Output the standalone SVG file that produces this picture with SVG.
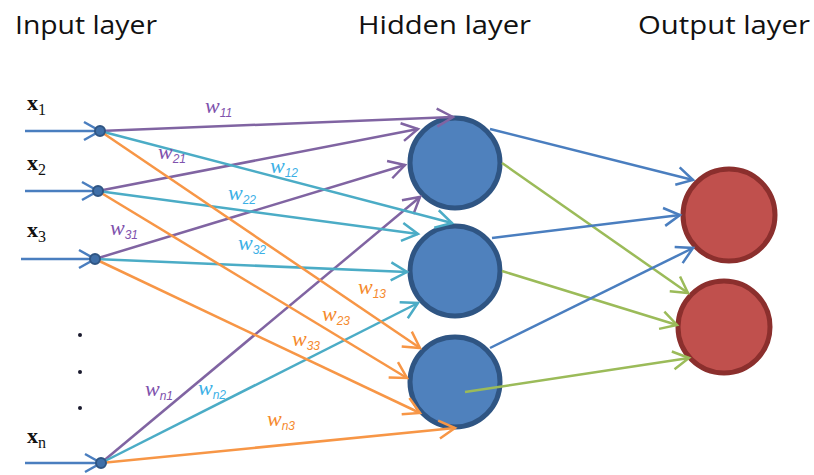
<svg xmlns="http://www.w3.org/2000/svg" width="814" height="475" viewBox="0 0 814 475">
<style>
.title{font-family:"Open Sans","Liberation Sans",sans-serif;font-size:26px;fill:#111}
.xl{font-family:"Liberation Serif",serif;font-size:22px;font-weight:bold;fill:#111}
.xs{font-size:16px;font-weight:normal}
.w{font-family:"Liberation Serif",serif;font-style:italic;font-size:22px}
.ws{font-family:"Liberation Sans",sans-serif;font-size:12px;font-style:italic}
.wp{fill:#8052ad}
.wc{fill:#3cb0e6}
.wo{fill:#f58a2e}
.hid{fill:#4f81bd;stroke:#2f5583;stroke-width:5}
.out{fill:#c0504d;stroke:#8b2f2d;stroke-width:5}
.inp{fill:#3f6fa8;stroke:#2f5583;stroke-width:2}
.e{fill:none;stroke-width:2.5}
.p{stroke:#8064a2}
.c{stroke:#4bacc6}
.o{stroke:#f79646}
.b{stroke:#4a7ebf}
.g{stroke:#9bbb59}
</style>
<defs>
<marker id="mp" markerUnits="userSpaceOnUse" markerWidth="40" markerHeight="40" viewBox="-20 -20 40 40" refX="0" refY="0" orient="auto"><path d="M-16,-9 L0,0 L-16,9" fill="none" stroke="#8064a2" stroke-width="2.5"/></marker>
<marker id="mc" markerUnits="userSpaceOnUse" markerWidth="40" markerHeight="40" viewBox="-20 -20 40 40" refX="0" refY="0" orient="auto"><path d="M-16,-9 L0,0 L-16,9" fill="none" stroke="#4bacc6" stroke-width="2.5"/></marker>
<marker id="mo" markerUnits="userSpaceOnUse" markerWidth="40" markerHeight="40" viewBox="-20 -20 40 40" refX="0" refY="0" orient="auto"><path d="M-16,-9 L0,0 L-16,9" fill="none" stroke="#f79646" stroke-width="2.5"/></marker>
<marker id="mb" markerUnits="userSpaceOnUse" markerWidth="40" markerHeight="40" viewBox="-20 -20 40 40" refX="0" refY="0" orient="auto"><path d="M-16,-9 L0,0 L-16,9" fill="none" stroke="#4a7ebf" stroke-width="2.5"/></marker>
<marker id="mg" markerUnits="userSpaceOnUse" markerWidth="40" markerHeight="40" viewBox="-20 -20 40 40" refX="0" refY="0" orient="auto"><path d="M-16,-9 L0,0 L-16,9" fill="none" stroke="#9bbb59" stroke-width="2.5"/></marker>
</defs>
<rect width="814" height="475" fill="#fff"/>
<g id="titles">
<text class="title" x="15" y="34" textLength="142" lengthAdjust="spacingAndGlyphs">Input layer</text>
<text class="title" x="358" y="34" textLength="173" lengthAdjust="spacingAndGlyphs">Hidden layer</text>
<text class="title" x="638" y="34" textLength="172" lengthAdjust="spacingAndGlyphs">Output layer</text>
</g>
<g id="h1"><circle class="hid" cx="455" cy="163" r="45"/></g>
<g id="h2"><circle class="hid" cx="455" cy="271" r="45"/></g>
<g id="h3"><circle class="hid" cx="455" cy="382" r="45"/></g>
<g id="o1"><circle class="out" cx="729" cy="215" r="46"/></g>
<g id="o2"><circle class="out" cx="724" cy="327" r="46"/></g>
<g id="connectors">
<line class="e b" x1="25" y1="131" x2="100" y2="131" marker-end="url(#mb)"/>
<line class="e b" x1="25" y1="191" x2="98" y2="191" marker-end="url(#mb)"/>
<line class="e b" x1="21" y1="259" x2="95" y2="259" marker-end="url(#mb)"/>
<line class="e b" x1="25" y1="463" x2="101" y2="463" marker-end="url(#mb)"/>
<line class="e p" x1="100" y1="131" x2="453" y2="117" marker-end="url(#mp)"/>
<line class="e p" x1="98" y1="191" x2="418" y2="129" marker-end="url(#mp)"/>
<line class="e p" x1="95" y1="259" x2="405" y2="165" marker-end="url(#mp)"/>
<line class="e p" x1="101" y1="463" x2="420" y2="197" marker-end="url(#mp)"/>
<line class="e c" x1="100" y1="131" x2="452" y2="223" marker-end="url(#mc)"/>
<line class="e c" x1="98" y1="191" x2="418" y2="234" marker-end="url(#mc)"/>
<line class="e c" x1="95" y1="259" x2="407" y2="272" marker-end="url(#mc)"/>
<line class="e c" x1="101" y1="463" x2="418" y2="303" marker-end="url(#mc)"/>
<line class="e o" x1="100" y1="131" x2="420" y2="348" marker-end="url(#mo)"/>
<line class="e o" x1="98" y1="191" x2="407" y2="378" marker-end="url(#mo)"/>
<line class="e o" x1="95" y1="259" x2="420" y2="413" marker-end="url(#mo)"/>
<line class="e o" x1="101" y1="463" x2="455" y2="428" marker-end="url(#mo)"/>
<line class="e b" x1="490" y1="129" x2="693" y2="180" marker-end="url(#mb)"/>
<line class="e g" x1="502" y1="163" x2="688" y2="293" marker-end="url(#mg)"/>
<line class="e b" x1="492" y1="238" x2="680" y2="215" marker-end="url(#mb)"/>
<line class="e g" x1="502" y1="271" x2="677" y2="325" marker-end="url(#mg)"/>
<line class="e b" x1="490" y1="348" x2="693" y2="248" marker-end="url(#mb)"/>
<line class="e g" x1="465" y1="392" x2="689" y2="358" marker-end="url(#mg)"/>
</g>
<g id="i1"><circle class="inp" cx="100" cy="131" r="5"/><text class="xl" x="27" y="110">x<tspan class="xs" dy="5">1</tspan></text></g>
<g id="i2"><circle class="inp" cx="98" cy="191" r="5"/><text class="xl" x="27" y="170">x<tspan class="xs" dy="5">2</tspan></text></g>
<g id="i3"><circle class="inp" cx="95" cy="259" r="5"/><text class="xl" x="27" y="237">x<tspan class="xs" dy="5">3</tspan></text></g>
<g id="in"><circle class="inp" cx="101" cy="463" r="5"/><text class="xl" x="27" y="443">x<tspan class="xs" dy="5">n</tspan></text></g>
<g id="ellipsis" fill="#1a1a2e"><circle cx="80" cy="335" r="2"/><circle cx="80" cy="372" r="2"/><circle cx="80" cy="408" r="2"/></g>
<g id="weights">
<text class="w wp" x="205" y="113">w<tspan class="ws" dy="4">11</tspan></text>
<text class="w wp" x="158" y="159">w<tspan class="ws" dy="4">21</tspan></text>
<text class="w wp" x="110" y="235">w<tspan class="ws" dy="4">31</tspan></text>
<text class="w wp" x="145" y="396">w<tspan class="ws" dy="4">n1</tspan></text>
<text class="w wc" x="270" y="173">w<tspan class="ws" dy="4">12</tspan></text>
<text class="w wc" x="228" y="200">w<tspan class="ws" dy="4">22</tspan></text>
<text class="w wc" x="238" y="250">w<tspan class="ws" dy="4">32</tspan></text>
<text class="w wc" x="198" y="395">w<tspan class="ws" dy="4">n2</tspan></text>
<text class="w wo" x="358" y="294">w<tspan class="ws" dy="4">13</tspan></text>
<text class="w wo" x="322" y="321">w<tspan class="ws" dy="4">23</tspan></text>
<text class="w wo" x="292" y="346">w<tspan class="ws" dy="4">33</tspan></text>
<text class="w wo" x="267" y="426">w<tspan class="ws" dy="4">n3</tspan></text>
</g>
</svg>
